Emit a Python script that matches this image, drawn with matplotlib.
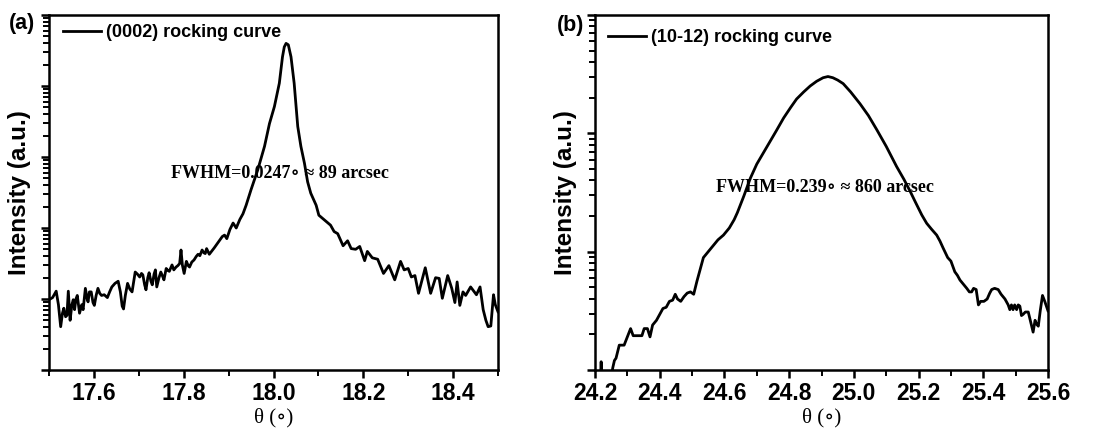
import numpy as np
import matplotlib
matplotlib.use('Agg')
import matplotlib.pyplot as plt
from matplotlib.ticker import LogLocator, MultipleLocator, NullFormatter

# (0002) rocking curve: theta (deg) and log10(intensity)
a_theta = [17.500, 17.508, 17.516, 17.521, 17.526, 17.530, 17.533, 17.537, 17.540, 17.543,
           17.547, 17.551, 17.554, 17.557, 17.560, 17.563, 17.568, 17.573, 17.576, 17.581,
           17.585, 17.587, 17.590, 17.594, 17.598, 17.601, 17.605, 17.609, 17.613, 17.617,
           17.623, 17.630, 17.635, 17.640, 17.647, 17.654, 17.659, 17.663, 17.666, 17.670,
           17.675, 17.680, 17.685, 17.692, 17.697, 17.702, 17.706, 17.709, 17.713, 17.716,
           17.720, 17.723, 17.727, 17.730, 17.734, 17.737, 17.740, 17.745, 17.749, 17.753,
           17.756, 17.761, 17.765, 17.768, 17.774, 17.778, 17.783, 17.787, 17.791, 17.794,
           17.797, 17.801, 17.806, 17.810, 17.813, 17.818, 17.823, 17.828, 17.832, 17.836,
           17.841, 17.845, 17.848, 17.851, 17.857, 17.862, 17.868, 17.877, 17.886, 17.891,
           17.896, 17.903, 17.910, 17.917, 17.925, 17.932, 17.939, 17.950, 17.965, 17.980,
           17.991, 18.002, 18.013, 18.020, 18.024, 18.028, 18.033, 18.039, 18.046, 18.054,
           18.061, 18.069, 18.076, 18.083, 18.095, 18.101, 18.114, 18.127, 18.135, 18.143,
           18.155, 18.165, 18.173, 18.183, 18.192, 18.203, 18.209, 18.220, 18.232, 18.245,
           18.257, 18.270, 18.283, 18.291, 18.300, 18.307, 18.315, 18.323, 18.338, 18.350,
           18.361, 18.369, 18.376, 18.388, 18.397, 18.404, 18.409, 18.415, 18.422, 18.428,
           18.439, 18.452, 18.460, 18.467, 18.473, 18.478, 18.484, 18.490, 18.494, 18.500]
a_log = [0.99, 1.02, 1.11, 0.92, 0.61, 0.80, 0.87, 0.75, 0.77, 1.11,
         0.70, 0.92, 0.99, 0.85, 1.00, 1.05, 0.80, 0.92, 0.85, 1.15,
         1.00, 0.96, 1.10, 1.10, 0.95, 0.91, 1.05, 1.15, 1.08, 1.05,
         1.06, 1.02, 1.10, 1.17, 1.22, 1.25, 1.10, 0.90, 0.86, 1.05,
         1.22, 1.14, 1.10, 1.38, 1.35, 1.31, 1.36, 1.34, 1.20, 1.13,
         1.30, 1.37, 1.25, 1.20, 1.35, 1.41, 1.17, 1.30, 1.38, 1.32,
         1.27, 1.43, 1.40, 1.39, 1.48, 1.41, 1.45, 1.47, 1.50, 1.69,
         1.48, 1.36, 1.53, 1.47, 1.45, 1.52, 1.55, 1.60, 1.63, 1.61,
         1.69, 1.65, 1.64, 1.71, 1.63, 1.67, 1.72, 1.80, 1.88, 1.90,
         1.85, 1.98, 2.07, 2.00, 2.12, 2.20, 2.32, 2.54, 2.82, 3.15,
         3.47, 3.71, 4.04, 4.41, 4.55, 4.60, 4.58, 4.41, 4.04, 3.43,
         3.15, 2.91, 2.65, 2.49, 2.32, 2.18, 2.11, 2.04, 1.95, 1.92,
         1.75, 1.82, 1.71, 1.70, 1.74, 1.54, 1.67, 1.58, 1.56, 1.36,
         1.47, 1.27, 1.53, 1.41, 1.43, 1.31, 1.33, 1.08, 1.44, 1.08,
         1.30, 1.29, 1.01, 1.33, 1.15, 0.95, 1.24, 0.91, 1.10, 1.05,
         1.17, 1.06, 1.17, 0.85, 0.70, 0.61, 0.62, 1.06, 0.92, 0.82]

# (10-12) rocking curve
b_theta = [24.200, 24.215, 24.219, 24.223, 24.245, 24.255, 24.260, 24.265, 24.275, 24.290,
           24.300, 24.310, 24.318, 24.330, 24.345, 24.352, 24.362, 24.370, 24.378, 24.390,
           24.400, 24.410, 24.420, 24.430, 24.440, 24.448, 24.455, 24.465, 24.475, 24.485,
           24.495, 24.505, 24.515, 24.525, 24.535, 24.550, 24.565, 24.580, 24.597, 24.615,
           24.630, 24.640, 24.660, 24.680, 24.700, 24.730, 24.760, 24.783, 24.805, 24.823,
           24.845, 24.865, 24.885, 24.905, 24.920, 24.935, 24.950, 24.967, 24.990, 25.019,
           25.045, 25.071, 25.100, 25.132, 25.155, 25.174, 25.190, 25.210, 25.225, 25.240,
           25.256, 25.266, 25.276, 25.290, 25.300, 25.312, 25.320, 25.328, 25.340, 25.349,
           25.357, 25.364, 25.370, 25.378, 25.385, 25.392, 25.402, 25.412, 25.420, 25.426,
           25.435, 25.446, 25.455, 25.467, 25.477, 25.482, 25.487, 25.492, 25.497, 25.503,
           25.508, 25.513, 25.518, 25.523, 25.530, 25.539, 25.547, 25.554, 25.560, 25.564,
           25.570, 25.576, 25.583, 25.590, 25.600]
b_log = [-0.30, -0.20, 0.07, -0.20, -0.15, 0.02, 0.08, 0.10, 0.21, 0.21,
         0.28, 0.35, 0.29, 0.29, 0.29, 0.35, 0.35, 0.28, 0.38, 0.42,
         0.47, 0.52, 0.53, 0.58, 0.59, 0.64, 0.60, 0.58, 0.62, 0.65,
         0.66, 0.64, 0.75, 0.85, 0.95, 1.00, 1.05, 1.10, 1.14, 1.20,
         1.27, 1.33, 1.47, 1.62, 1.74, 1.88, 2.02, 2.13, 2.22, 2.29,
         2.35, 2.40, 2.44, 2.47, 2.48, 2.47, 2.45, 2.42, 2.35, 2.25,
         2.15, 2.03, 1.89, 1.72, 1.61, 1.51, 1.42, 1.31, 1.24, 1.19,
         1.14, 1.09, 1.03, 0.95, 0.92, 0.83, 0.80, 0.76, 0.72, 0.69,
         0.66, 0.66, 0.69, 0.68, 0.55, 0.58, 0.58, 0.60, 0.65, 0.68,
         0.69, 0.68, 0.64, 0.60, 0.55, 0.51, 0.55, 0.51, 0.55, 0.51,
         0.55, 0.54, 0.46, 0.47, 0.49, 0.49, 0.40, 0.32, 0.42, 0.39,
         0.37, 0.50, 0.63, 0.58, 0.50]

W, H = 1105, 430
fig = plt.figure(figsize=(W / 100, H / 100), dpi=100)

sans_b = dict(family='Liberation Sans', weight='bold')
serif_b = dict(family=['Liberation Serif', 'DejaVu Serif'], weight='bold')
serif = dict(family=['Liberation Serif', 'DejaVu Serif'])
leg_font = dict(family='Liberation Sans', weight='bold', size=13)


def setup_axes(ax, xlim, ylim):
    ax.set_yscale('log')
    ax.set_xlim(*xlim)
    ax.set_ylim(*ylim)
    for s in ax.spines.values():
        s.set_linewidth(1.8)
    ax.xaxis.set_major_locator(MultipleLocator(0.2))
    ax.xaxis.set_minor_locator(MultipleLocator(0.1))
    ax.yaxis.set_major_locator(LogLocator(base=10))
    ax.yaxis.set_minor_locator(LogLocator(base=10, subs=np.arange(2, 10)))
    ax.yaxis.set_major_formatter(NullFormatter())
    ax.yaxis.set_minor_formatter(NullFormatter())
    ax.tick_params(which='major', direction='out', length=6, width=1.8,
                   top=False, right=False, labelsize=16.5, pad=3)
    ax.tick_params(which='minor', direction='out', length=4, width=1.4,
                   top=False, right=False)
    for lab in ax.get_xticklabels():
        lab.set_fontfamily('Liberation Sans')
        lab.set_fontweight('bold')
    ax.set_ylabel('Intensity (a.u.)', fontsize=17.5, labelpad=4, **sans_b)
    ax.set_xlabel('θ (∘)', fontsize=15, labelpad=2, **serif)


# panel (a)
ax1 = fig.add_axes([49 / W, 1 - 370 / H, 449 / W, 355 / H])
ax1.plot(a_theta, 10 ** np.array(a_log), color='black', lw=2.0, label='(0002) rocking curve')
setup_axes(ax1, (17.5, 18.5), (1, 1e5))
ax1.text(280 / W, 1 - 173 / H, 'FWHM=0.0247∘ ≈ 89 arcsec', transform=fig.transFigure,
         ha='center', va='center', fontsize=13, **serif_b)
ax1.legend(loc='upper left', bbox_to_anchor=(-0.005, 1.02), frameon=False, handlelength=2.1,
           handletextpad=0.3, prop=leg_font)
fig.text(22 / W, 1 - 24 / H, '(a)', ha='center', va='center', fontsize=15.5, **sans_b)

# panel (b)
ax2 = fig.add_axes([595 / W, 1 - 370 / H, 453 / W, 355 / H])
ax2.plot(b_theta, 10 ** np.array(b_log), color='black', lw=2.0, label='(10-12) rocking curve')
setup_axes(ax2, (24.2, 25.6), (1, 1e3))
ax2.text(825 / W, 1 - 187 / H, 'FWHM=0.239∘ ≈ 860 arcsec', transform=fig.transFigure,
         ha='center', va='center', fontsize=13, **serif_b)
ax2.legend(loc='upper left', bbox_to_anchor=(-0.008, 1.005), frameon=False, handlelength=2.1,
           handletextpad=0.3, prop=leg_font)
fig.text(571 / W, 1 - 25 / H, '(b)', ha='center', va='center', fontsize=15.5, **sans_b)

fig.savefig('out.png', dpi=100)
